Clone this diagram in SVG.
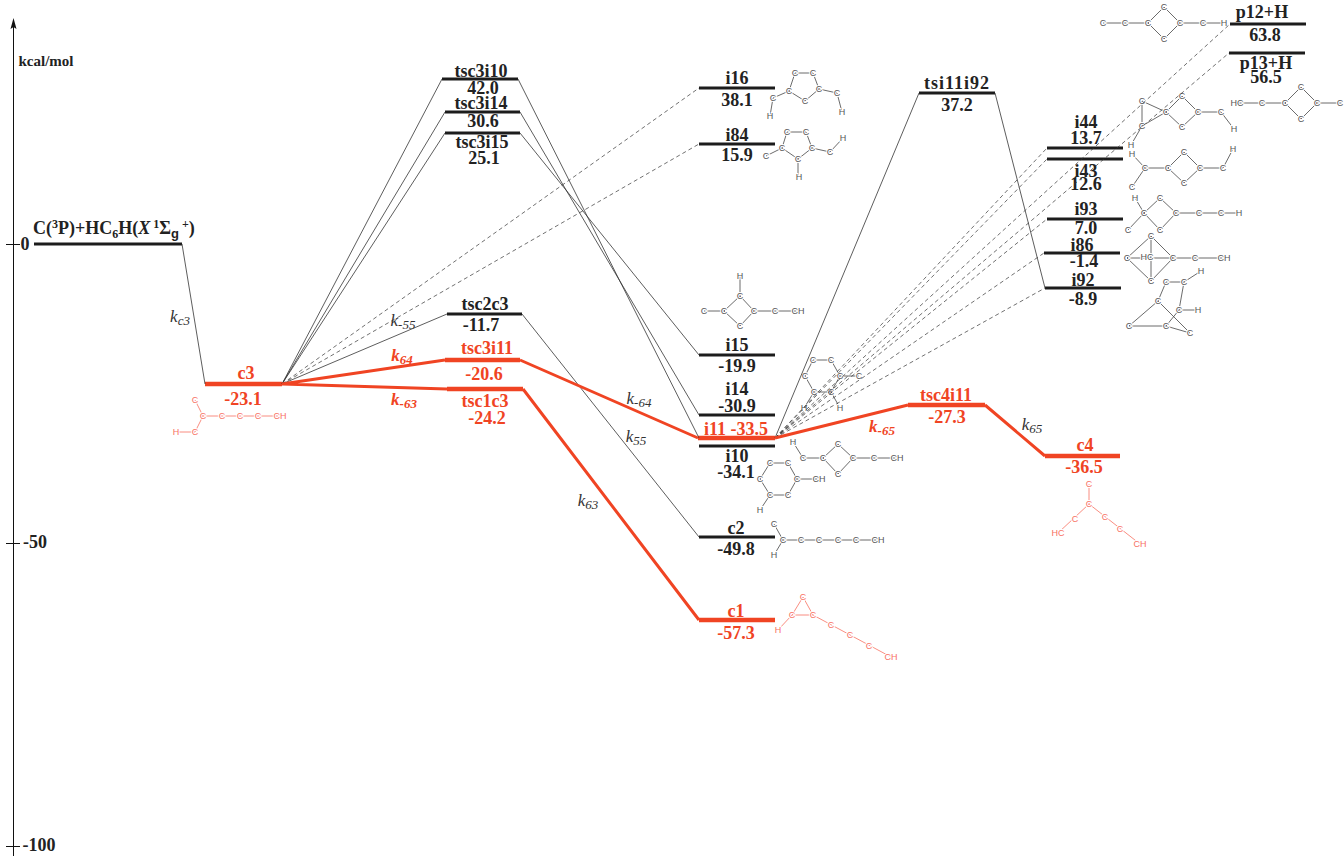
<svg xmlns="http://www.w3.org/2000/svg" width="1344" height="856" viewBox="0 0 1344 856">
<style>
text{font-family:"Liberation Serif",serif;font-weight:bold;font-size:18px;fill:#222;text-anchor:middle}
.r text{fill:#f04423}
.lv{stroke:#1c1c1c;stroke-width:3;fill:none}
.r .lv{stroke:#f04423;stroke-width:4.5}
.thin{stroke:#333;stroke-width:.8;fill:none}
.red{stroke:#f04423;stroke-width:3;fill:none}
.dash{stroke:#333;stroke-width:.7;stroke-dasharray:4 3;fill:none}
.s{opacity:.99}
.s path{stroke:#444;stroke-width:.8;fill:none}
.s text{font-family:"Liberation Sans",sans-serif;font-weight:normal;font-size:9px;fill:#555;paint-order:stroke;stroke:#fff;stroke-width:2px}
.r .s path{stroke:#f8705f}
.r .s text{fill:#f8705f}
text.k{font-style:italic;font-weight:normal;font-size:17px;fill:#333}
text.k.r{fill:#f04423;font-weight:bold}
.k tspan{font-size:13px}
</style>
<g id="axis">
<path d="M13.500 856V24" stroke="#111" stroke-width="1" fill="none"/>
<path d="M13.500 18L16.500 29L13.500 27L10.500 29Z" fill="#111"/>
<path d="M6 244.500H20M6 543.500H20M6 846.500H20" stroke="#111" stroke-width="1" fill="none"/>
<text x="25" y="250">0</text>
<text x="35" y="548">-50</text>
<text x="39" y="851">-100</text>
<text x="46" y="66" style="font-size:15px">kcal/mol</text>
</g>
<g id="n-reactant"><path class="lv" d="M34 244H182"/>
<text x="33" y="234" style="text-anchor:start">C(<tspan dy="-6" style="font-size:12px">3</tspan><tspan dy="6">P)+HC</tspan><tspan dy="4" style="font-size:12px">6</tspan><tspan dy="-4">H(</tspan><tspan style="font-style:italic">X</tspan><tspan dy="-6" style="font-size:12px"> 1</tspan><tspan dy="6">Σ</tspan><tspan dy="4" style="font-size:13px;font-family:'Liberation Sans',sans-serif">g</tspan><tspan dy="-10" style="font-size:12px"> +</tspan><tspan dy="6">)</tspan></text></g>

<g id="n-c3" class="r"><path class="lv" d="M205 384H282"/><text x="246" y="379">c3</text><text x="243" y="405">-23.1</text>
<g class="s"><path d="M195 400L203 416L195 432H176M203 416H280"/><text x="195" y="403">C</text><text x="203" y="419">C</text><text x="176" y="435">H</text><text x="195" y="435">C</text><text x="222" y="419">C</text><text x="240" y="419">C</text><text x="258" y="419">C</text><text x="280" y="419">CH</text></g></g>

<g id="n-tsc3i10"><path class="lv" d="M442 79H518"/><text x="481" y="77">tsc3i10</text><text x="483" y="94">42.0</text></g>
<g id="n-tsc3i14"><path class="lv" d="M445 112H520"/><text x="481" y="109">tsc3i14</text><text x="483" y="127">30.6</text></g>
<g id="n-tsc3i15"><path class="lv" d="M445 133H520"/><text x="482" y="148">tsc3i15</text><text x="484" y="164">25.1</text></g>
<g id="n-tsc2c3"><path class="lv" d="M447 314H522"/><text x="485" y="310">tsc2c3</text><text x="481" y="331">-11.7</text></g>
<g id="n-tsc3i11" class="r"><path class="lv" d="M445 360H520"/><text x="487" y="354">tsc3i11</text><text x="484" y="380">-20.6</text></g>
<g id="n-tsc1c3" class="r"><path class="lv" d="M447 389H523"/><text x="485" y="407">tsc1c3</text><text x="487" y="424">-24.2</text></g>

<g id="n-i16"><path class="lv" d="M699 88H775"/><text x="737" y="84">i16</text><text x="737" y="106">38.1</text>
<g class="s"><path d="M795 73H813L819 89L805 101L789 91ZM789 91L773 98L770 116M819 89L837 93L842 112"/><text x="795" y="76">C</text><text x="813" y="76">C</text><text x="789" y="94">C</text><text x="819" y="92">C</text><text x="805" y="104">C</text><text x="773" y="101">C</text><text x="770" y="119">H</text><text x="837" y="96">C</text><text x="842" y="115">H</text></g></g>
<g id="n-i84"><path class="lv" d="M699 144H775"/><text x="737" y="141">i84</text><text x="737" y="161">15.9</text>
<g class="s"><path d="M787 132H806L812 148L798 159L782 148ZM782 148L766 156M798 159V177M812 148L830 152L843 138"/><text x="787" y="135">C</text><text x="806" y="135">C</text><text x="782" y="151">C</text><text x="812" y="151">C</text><text x="798" y="162">C</text><text x="766" y="159">C</text><text x="799" y="180">H</text><text x="830" y="155">C</text><text x="843" y="141">H</text></g></g>
<g id="n-i15"><path class="lv" d="M699 355H775"/><text x="737" y="351">i15</text><text x="737" y="372">-19.9</text>
<g class="s"><path d="M740 276V296L754 311L740 326L724 311L740 296M704 311H724M754 311H798"/><text x="740" y="279">H</text><text x="740" y="299">C</text><text x="704" y="314">C</text><text x="724" y="314">C</text><text x="740" y="329">C</text><text x="754" y="314">C</text><text x="775" y="314">C</text><text x="798" y="314">CH</text></g></g>
<g id="n-i14"><path class="lv" d="M699 415H775"/><text x="737" y="395">i14</text><text x="737" y="412">-30.9</text>
<g class="s"><path d="M813 360H831L840 376L831 392H814L805 376ZM840 376H859M831 392L840 408M814 392L804 408"/><text x="813" y="363">C</text><text x="831" y="363">C</text><text x="805" y="379">C</text><text x="840" y="379">C</text><text x="859" y="379">C</text><text x="814" y="395">C</text><text x="831" y="395">C</text><text x="840" y="411">H</text><text x="804" y="411">H</text></g></g>
<g id="n-i11" class="r"><path class="lv" d="M698 438H775"/><text x="736" y="435">i11  -33.5</text></g>
<g id="n-i11-structure" class="s"><path d="M793 442L803 458H823L838 444L853 458L838 474L823 458M853 458H897"/><text x="793" y="445">H</text><text x="803" y="461">C</text><text x="823" y="461">C</text><text x="838" y="447">C</text><text x="838" y="477">C</text><text x="853" y="461">C</text><text x="874" y="461">C</text><text x="897" y="461">CH</text></g>
<g id="n-i10"><path class="lv" d="M699 446H775"/><text x="737" y="462">i10</text><text x="736" y="478">-34.1</text>
<g class="s"><path d="M770 463H788L797 479L788 495H770L760 479ZM797 479H819M770 495L760 510"/><text x="770" y="466">C</text><text x="788" y="466">C</text><text x="760" y="482">C</text><text x="797" y="482">C</text><text x="819" y="482">CH</text><text x="770" y="498">C</text><text x="788" y="498">C</text><text x="760" y="513">H</text></g></g>
<g id="n-c2"><path class="lv" d="M699 537H775"/><text x="736" y="534">c2</text><text x="736" y="555">-49.8</text>
<g class="s"><path d="M774 524L783 540L774 555M783 540H878"/><text x="774" y="527">C</text><text x="783" y="543">C</text><text x="774" y="558">H</text><text x="801" y="543">C</text><text x="819" y="543">C</text><text x="838" y="543">C</text><text x="856" y="543">C</text><text x="878" y="543">CH</text></g></g>
<g id="n-c1" class="r"><path class="lv" d="M699 620H775"/><text x="736" y="617">c1</text><text x="736" y="639">-57.3</text>
<g class="s"><path d="M803 597L792 615H813L803 597M792 615L778 630M813 615L891 657"/><text x="803" y="600">C</text><text x="792" y="618">C</text><text x="813" y="618">C</text><text x="778" y="633">H</text><text x="831" y="628">C</text><text x="850" y="638">C</text><text x="869" y="649">C</text><text x="891" y="660">CH</text></g></g>

<g id="n-tsi11i92"><path class="lv" d="M919 93H995"/><text x="957" y="89" style="letter-spacing:1px">tsi11i92</text><text x="957" y="111">37.2</text></g>
<g id="n-tsc4i11" class="r"><path class="lv" d="M908 405H985"/><text x="946" y="401">tsc4i11</text><text x="947" y="423">-27.3</text></g>
<g id="n-c4" class="r"><path class="lv" d="M1045 456H1120"/><text x="1085" y="451">c4</text><text x="1084" y="473">-36.5</text>
<g class="s"><path d="M1089 484V504L1058 533M1089 504L1140 544"/><text x="1089" y="487">C</text><text x="1089" y="507">C</text><text x="1075" y="522">C</text><text x="1058" y="536">HC</text><text x="1105" y="520">C</text><text x="1120" y="532">C</text><text x="1140" y="547">CH</text></g></g>

<g id="n-i44"><path class="lv" d="M1047 148H1123"/><text x="1086" y="128">i44</text><text x="1086" y="144">13.7</text>
<g class="s"><path d="M1142 101V126L1131 145M1142 101L1166 112L1142 126M1166 112L1182 96L1198 112L1182 127ZM1198 112H1221L1234 129"/><text x="1142" y="104">C</text><text x="1142" y="129">C</text><text x="1131" y="148">H</text><text x="1166" y="115">C</text><text x="1182" y="99">C</text><text x="1182" y="130">C</text><text x="1198" y="115">C</text><text x="1221" y="115">C</text><text x="1234" y="132">H</text></g></g>
<g id="n-i43"><path class="lv" d="M1047 159H1123"/><text x="1086" y="177">i43</text><text x="1086" y="190">12.6</text>
<g class="s"><path d="M1132 154L1145 168L1132 187M1145 168H1168L1184 152L1200 168L1184 183L1168 168M1200 168H1223L1233 149"/><text x="1132" y="157">H</text><text x="1145" y="171">C</text><text x="1132" y="190">C</text><text x="1168" y="171">C</text><text x="1184" y="155">C</text><text x="1184" y="186">C</text><text x="1200" y="171">C</text><text x="1223" y="171">C</text><text x="1233" y="152">H</text></g></g>
<g id="n-i93"><path class="lv" d="M1047 219H1123"/><text x="1086" y="215">i93</text><text x="1086" y="234">7.0</text>
<g class="s"><path d="M1135 198L1144 213L1160 198L1176 213L1160 230L1144 213L1128 230M1176 213H1239"/><text x="1135" y="201">H</text><text x="1144" y="216">C</text><text x="1160" y="201">C</text><text x="1160" y="233">C</text><text x="1128" y="233">C</text><text x="1176" y="216">C</text><text x="1199" y="216">C</text><text x="1221" y="216">C</text><text x="1239" y="216">H</text></g></g>
<g id="n-i86"><path class="lv" d="M1044 253H1120"/><text x="1082" y="251">i86</text><text x="1084" y="267">-1.4</text>
<g class="s"><path d="M1151 236L1127 258L1151 281L1173 258L1151 236V281M1127 258H1224"/><text x="1151" y="239">C</text><text x="1127" y="261">C</text><text x="1147" y="260">HC</text><text x="1173" y="261">C</text><text x="1151" y="284">C</text><text x="1195" y="261">C</text><text x="1224" y="261">CH</text></g></g>
<g id="n-i92"><path class="lv" d="M1045 288H1121"/><text x="1083" y="286">i92</text><text x="1083" y="305">-8.9</text>
<g class="s"><path d="M1158 301L1166 282H1184L1201 271M1184 282L1179 310H1198M1179 310L1166 326L1190 333L1158 301L1129 326H1166"/><text x="1166" y="285">C</text><text x="1184" y="285">C</text><text x="1201" y="274">H</text><text x="1158" y="304">C</text><text x="1179" y="313">C</text><text x="1198" y="313">H</text><text x="1129" y="329">C</text><text x="1166" y="329">C</text><text x="1190" y="336">C</text></g></g>
<g id="n-p12"><path class="lv" d="M1230 24H1306"/><text x="1262" y="18">p12+H</text><text x="1265" y="41">63.8</text>
<g class="s"><path d="M1103 23H1148L1164 7L1180 23L1164 39L1148 23M1180 23H1224"/><text x="1103" y="26">C</text><text x="1125" y="26">C</text><text x="1148" y="26">C</text><text x="1164" y="10">C</text><text x="1164" y="42">C</text><text x="1180" y="26">C</text><text x="1203" y="26">C</text><text x="1224" y="26">H</text></g></g>
<g id="n-p13"><path class="lv" d="M1229 53H1305"/><text x="1266" y="69">p13+H</text><text x="1266" y="83">56.5</text>
<g class="s"><path d="M1237 103H1285L1301 87L1317 103L1301 119L1285 103M1317 103H1342"/><text x="1237" y="106">HC</text><text x="1262" y="106">C</text><text x="1285" y="106">C</text><text x="1301" y="90">C</text><text x="1301" y="122">C</text><text x="1317" y="106">C</text><text x="1340" y="106">C</text></g></g>

<g id="connectors">
<path class="thin" d="M182 244L205 384M282 384L442 79M282 384L445 112M282 384L445 133M282 384L447 314M518 79L699 438M520 112L699 415M520 133L699 355M522 314L699 537M775 438L919 93M995 93L1045 288"/>
<path class="dash" d="M282 384L699 88M282 384L699 144M775 438L1230 24M775 438L1229 53M775 438L1047 148M775 438L1047 159M775 438L1047 219M775 438L1044 253M775 438L1045 288"/>
<path class="red" d="M282 384L445 360M282 384L447 389M520 360L698 438M523 389L699 620M775 438L908 405M985 405L1045 456"/>
</g>
<g id="rate-labels">
<text class="k" x="180" y="322">k<tspan dy="3">c3</tspan></text>
<text class="k" x="403" y="326">k<tspan dy="3">-55</tspan></text>
<text class="k r" x="402" y="361">k<tspan dy="3">64</tspan></text>
<text class="k r" x="404" y="405">k<tspan dy="3">-63</tspan></text>
<text class="k" x="639" y="404">k<tspan dy="3">-64</tspan></text>
<text class="k" x="636" y="442">k<tspan dy="3">55</tspan></text>
<text class="k" x="588" y="506">k<tspan dy="3">63</tspan></text>
<text class="k r" x="882" y="432">k<tspan dy="3">-65</tspan></text>
<text class="k" x="1032" y="430">k<tspan dy="3">65</tspan></text>
</g>
</svg>
